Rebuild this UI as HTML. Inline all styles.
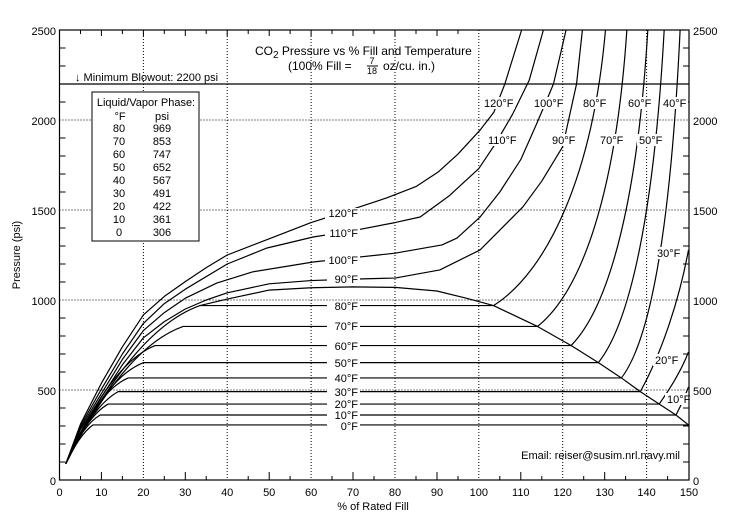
<!DOCTYPE html>
<html><head><meta charset="utf-8"><style>
html,body{margin:0;padding:0;background:#fff}
svg{display:block}
text{font-family:"Liberation Sans",sans-serif;font-size:11px;fill:#000}
.c{fill:none;stroke:#000;stroke-width:1.2;vector-effect:non-scaling-stroke;stroke-linejoin:round}
.g{stroke:#000;stroke-width:1;stroke-dasharray:1 2;fill:none}
</style></head><body>
<svg width="754" height="524" viewBox="0 0 754 524" xmlns="http://www.w3.org/2000/svg">
<rect width="754" height="524" fill="#fff"/>
<!-- grid -->
<g class="g">
<path d="M143.4 30V480M227.2 30V480M311.1 30V480M395 30V480M478.8 30V480M562.7 30V480M646.6 30V480"/>
<path d="M59.5 390H689M59.5 300H689M59.5 210H689M59.5 120H689"/>
</g>
<!-- curves in data coords -->
<g transform="translate(59.5,480) scale(4.1933,-0.18)">
<!-- vapor-side subcritical -->
<path class="c" d="M1.5 90Q4.75 252 8 306H150"/>
<path class="c" d="M1.5 90Q5.6 307 9.7 361H147"/>
<path class="c" d="M1.5 90Q6.55 356 11.6 422H143"/>
<path class="c" d="M1.5 90Q7.75 411 14 491H138.5"/>
<path class="c" d="M1.5 90Q8.95 495 16.4 567H134"/>
<path class="c" d="M1.5 90Q10.75 568 20 652H128.5"/>
<path class="c" d="M1.5 90Q12.15 648 22.8 747H122"/>
<path class="c" d="M1.5 90Q15.5 739 29.5 853H114"/>
<path class="c" d="M1.5 90Q17.5 837 33.5 969H103.5"/>
<!-- dome -->
<path class="c" d="M33.5 969L40 1005L50 1055L60 1068L70 1073L80 1070L90 1050L97 1010L103.5 969L114 853L122 747L128.5 652L134 567L138.5 491L143 422L147 361L150 306"/>
<!-- liquid-side -->
<path class="c" d="M103.5 969C116.5 1160 127.2 1700 130.2 2500"/>
<path class="c" d="M114 853C124.6 1051 132.7 1594 135.3 2500"/>
<path class="c" d="M122 747C131 960 137.8 1540 140.3 2500"/>
<path class="c" d="M128.5 652C136 870 141.8 1480 144.2 2500"/>
<path class="c" d="M134 567C141 780 145.8 1420 148 2500"/>
<path class="c" d="M138.5 491C143.5 700 147.8 1000 150 1278"/>
<path class="c" d="M143 422C146 520 148.5 620 150 711"/>
<path class="c" d="M147 361C148.2 410 149.2 470 150 517"/>
<!-- supercritical -->
<path class="c" d="M1.5 90L5 280L10 460L15 640L20 790L25 880L30 950L35 1000L40 1040L50 1090L60 1108L70 1116L80 1122L90.7 1167L100.3 1278L110.5 1517L115 1660L120 1852L123.3 2200L124.7 2500"/>
<path class="c" d="M1.5 90L5 290L10 480L15 670L20 830L25 930L30 1010L37.5 1094L46 1156L60.5 1211L70 1235L80 1260L91.2 1306L94.8 1344L100.3 1461L105 1600L110 1780L114 1990L117.8 2200L120.8 2500"/>
<path class="c" d="M1.5 90L5 300L10 505L15 700L20 870L25 980L30 1060L40 1200L49.5 1289L60.5 1350L70 1385L80 1430L86 1461L93 1580L100 1730L104 1870L108 2030L112 2220L115.4 2500"/>
<path class="c" d="M1.5 90L5 310L10 538L15 740L20 917L25 1020L30 1102L35 1180L40 1250L50 1340L60 1430L68 1490L78 1567L85 1630L90.3 1711L95 1810L100.3 1944L103.6 2044L106.2 2200L110.2 2500"/>
</g>
<!-- blowout line, axes -->
<path d="M59.5 84H689" stroke="#000" stroke-width="1.2"/>
<rect x="59.5" y="30" width="629.5" height="450" fill="none" stroke="#000" stroke-width="1.2"/>
<!-- ticks -->
<g stroke="#000" stroke-width="1">
<path d="M59.5 462h6M59.5 444h6M59.5 426h6M59.5 408h6M59.5 372h6M59.5 354h6M59.5 336h6M59.5 318h6M59.5 282h6M59.5 264h6M59.5 246h6M59.5 228h6M59.5 192h6M59.5 174h6M59.5 156h6M59.5 138h6M59.5 102h6M59.5 84h6M59.5 66h6M59.5 48h6"/>
<path d="M689 462h-6M689 444h-6M689 426h-6M689 408h-6M689 372h-6M689 354h-6M689 336h-6M689 318h-6M689 282h-6M689 264h-6M689 246h-6M689 228h-6M689 192h-6M689 174h-6M689 156h-6M689 138h-6M689 102h-6M689 66h-6M689 48h-6"/>
<path d="M80.5 480v-4M101.4 480v-8M122.4 480v-4M164.3 480v-4M185.3 480v-8M206.2 480v-4M248.2 480v-4M269.2 480v-8M290.1 480v-4M332 480v-4M353 480v-8M374 480v-4M416 480v-4M437 480v-8M458 480v-4M499.8 480v-4M520.8 480v-8M541.8 480v-4M583.7 480v-4M604.7 480v-8M625.6 480v-4M667.6 480v-4"/>
<path d="M80.5 30v4M101.4 30v6M122.4 30v4M143.4 30v6M164.3 30v4M185.3 30v6M206.2 30v4M227.2 30v6M248.2 30v4M269.2 30v6M290.1 30v4M311.1 30v6M332 30v4M353 30v6M374 30v4M395 30v6M416 30v4M437 30v6M458 30v4"/>
</g>
<!-- in-plot labels with white bg -->
<g fill="#fff">
<rect x="327" y="420" width="33" height="11"/><rect x="327" y="410" width="33" height="11"/><rect x="327" y="399" width="33" height="11"/><rect x="327" y="387" width="33" height="11"/><rect x="327" y="373" width="33" height="11"/><rect x="327" y="358" width="33" height="11"/><rect x="327" y="341" width="33" height="11"/><rect x="327" y="321" width="33" height="11"/><rect x="327" y="301" width="33" height="11"/><rect x="327" y="274" width="33" height="11"/><rect x="325" y="255" width="35" height="11"/><rect x="325" y="228" width="35" height="11"/><rect x="325" y="208" width="35" height="11"/>
<rect x="482" y="97" width="33" height="12"/><rect x="532" y="97" width="33" height="12"/><rect x="581" y="97" width="28" height="12"/><rect x="626" y="97" width="28" height="12"/><rect x="661" y="97" width="27" height="12"/>
<rect x="486" y="134" width="33" height="12"/><rect x="550" y="134" width="28" height="12"/><rect x="598" y="134" width="28" height="12"/><rect x="637" y="134" width="28" height="12"/>
<rect x="655" y="247" width="28" height="12"/><rect x="653" y="354" width="28" height="12"/><rect x="665" y="393" width="23" height="12"/>
</g>
<g text-anchor="end">
<text x="358" y="430">0°F</text><text x="358" y="419">10°F</text><text x="358" y="408">20°F</text><text x="358" y="396">30°F</text><text x="358" y="382">40°F</text><text x="358" y="367">50°F</text><text x="358" y="350">60°F</text><text x="358" y="330">70°F</text><text x="358" y="310">80°F</text><text x="358" y="283">90°F</text><text x="358" y="264">100°F</text><text x="358" y="237">110°F</text><text x="358" y="217">120°F</text>
</g>
<text x="484" y="107">120°F</text><text x="534" y="107">100°F</text><text x="583" y="107">80°F</text><text x="628" y="107">60°F</text><text x="663" y="107">40°F</text>
<text x="488" y="144">110°F</text><text x="552" y="144">90°F</text><text x="600" y="144">70°F</text><text x="639" y="144">50°F</text>
<text x="657" y="257">30°F</text><text x="655" y="364">20°F</text><text x="667" y="403">10°F</text>
<!-- title -->
<text x="255" y="55" font-size="12" style="font-size:12px">CO<tspan dy="3" font-size="10" style="font-size:10px">2</tspan><tspan dy="-3"> Pressure vs % Fill and Temperature</tspan></text>
<text x="288" y="70" style="font-size:12px">(100% Fill = </text>
<text x="372" y="64" style="font-size:9px" text-anchor="middle">7</text>
<path d="M367 66H378" stroke="#000"/>
<text x="372" y="74" style="font-size:9px" text-anchor="middle">18</text>
<text x="383" y="70" style="font-size:12px">oz/cu. in.)</text>
<text x="75" y="81">↓ Minimum Blowout: 2200 psi</text>
<!-- table -->
<rect x="92" y="92" width="107" height="149" fill="#fff" stroke="#000"/>
<g text-anchor="middle">
<text x="146" y="106">Liquid/Vapor Phase:</text>
<text x="120" y="120">°F</text><text x="162" y="120">psi</text>
<text x="119" y="132">80</text><text x="162" y="132">969</text>
<text x="119" y="145">70</text><text x="162" y="145">853</text>
<text x="119" y="158">60</text><text x="162" y="158">747</text>
<text x="119" y="171">50</text><text x="162" y="171">652</text>
<text x="119" y="184">40</text><text x="162" y="184">567</text>
<text x="119" y="197">30</text><text x="162" y="197">491</text>
<text x="119" y="210">20</text><text x="162" y="210">422</text>
<text x="119" y="223">10</text><text x="162" y="223">361</text>
<text x="119" y="236">0</text><text x="162" y="236">306</text>
</g>
<text x="680" y="459" text-anchor="end">Email: reiser@susim.nrl.navy.mil</text>
<!-- axis labels -->
<g text-anchor="end">
<text x="56" y="35">2500</text><text x="56" y="125">2000</text><text x="56" y="215">1500</text><text x="56" y="305">1000</text><text x="56" y="395">500</text><text x="56" y="485">0</text>
</g>
<g>
<text x="693" y="35">2500</text><text x="693" y="125">2000</text><text x="693" y="215">1500</text><text x="693" y="305">1000</text><text x="693" y="395">500</text><text x="693" y="485">0</text>
</g>
<g text-anchor="middle">
<text x="59.5" y="496">0</text><text x="101.4" y="496">10</text><text x="143.4" y="496">20</text><text x="185.3" y="496">30</text><text x="227.2" y="496">40</text><text x="269.2" y="496">50</text><text x="311.1" y="496">60</text><text x="353" y="496">70</text><text x="395" y="496">80</text><text x="437" y="496">90</text><text x="478.8" y="496">100</text><text x="520.8" y="496">110</text><text x="562.7" y="496">120</text><text x="604.7" y="496">130</text><text x="646.6" y="496">140</text><text x="689" y="496">150</text>
<text x="373" y="510">% of Rated Fill</text>
<text x="0" y="0" transform="translate(20,255) rotate(-90)">Pressure (psi)</text>
</g>
</svg>
</body></html>
